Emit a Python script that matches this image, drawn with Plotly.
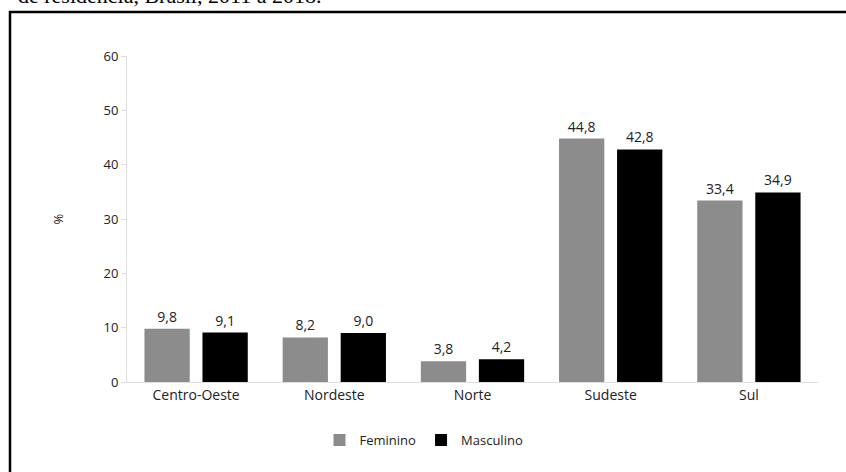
import plotly.graph_objects as go

regioes = ["Centro-Oeste", "Nordeste", "Norte", "Sudeste", "Sul"]
feminino = [9.8, 8.2, 3.8, 44.8, 33.4]
masculino = [9.1, 9.0, 4.2, 42.8, 34.9]
y_ticks = [0, 10, 20, 30, 40, 50, 60]
cabecalho = "de residência, Brasil, 2011 a 2018."

FONT = "Open Sans, Noto Sans, sans-serif"
TXT = "#222222"

fig = go.Figure()
fig.add_trace(go.Bar(
    x=regioes, y=feminino, name="Feminino",
    marker=dict(color="#8c8c8c", line=dict(width=0)),
    texttemplate="%{y:.1f}", textposition="outside",
    textfont=dict(size=14, color=TXT, family=FONT), cliponaxis=False,
))
fig.add_trace(go.Bar(
    x=regioes, y=masculino, name="Masculino",
    marker=dict(color="#000000", line=dict(width=0)),
    texttemplate="%{y:.1f}", textposition="outside",
    textfont=dict(size=14, color=TXT, family=FONT), cliponaxis=False,
))

L, R, T, B = 127, 28, 56, 90
W, H = 846, 472
pw, ph = W - L - R, H - T - B

def px(xp):
    return (xp - L) / pw

def py(yp):
    return (H - B - yp) / ph

fig.update_layout(
    width=W, height=H,
    margin=dict(l=L, r=R, t=T, b=B, pad=0),
    paper_bgcolor="white", plot_bgcolor="white",
    separators=",.",
    barmode="group", bargap=0.16, bargroupgap=0.22,
    font=dict(family=FONT, size=13, color=TXT),
    showlegend=True,
    legend=dict(orientation="h", x=px(424), xanchor="center", y=py(440), yanchor="middle",
                font=dict(size=13, color=TXT, family=FONT), traceorder="normal",
                itemwidth=30, bgcolor="rgba(0,0,0,0)"),
    xaxis=dict(showline=True, linecolor="#dedede", linewidth=1, ticks="",
               showgrid=False, tickfont=dict(size=14, color=TXT), fixedrange=True),
    yaxis=dict(range=[0, 60], autorange=False, tickvals=y_ticks, showgrid=False,
               zeroline=False, showline=True, linecolor="#dedede", linewidth=1,
               ticks="outside", ticklen=5, tickcolor="#dedede",
               tickfont=dict(size=13, color=TXT),
               title=dict(text="%", font=dict(size=13, color=TXT), standoff=36)),
    shapes=[dict(type="rect", xref="paper", yref="paper",
                 x0=px(10), x1=px(860), y0=py(12), y1=py(490),
                 line=dict(color="black", width=2.5), fillcolor="rgba(0,0,0,0)", layer="above")],
    annotations=[dict(text=cabecalho, xref="paper", yref="paper",
                      x=px(16), xanchor="left", y=py(10), yanchor="bottom",
                      showarrow=False,
                      font=dict(family="Liberation Serif, Times New Roman, serif", size=22, color="black"))],
)

fig.write_html("out.html")
